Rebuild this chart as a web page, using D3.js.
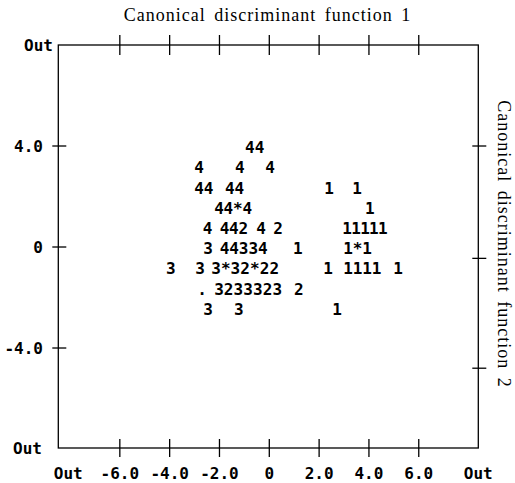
<!DOCTYPE html>
<html>
  <head>
    <title>Canonical discriminant functions</title>
    <style>
      body {
        margin: 0;
        padding: 0;
        overflow: hidden;
        background: #fff;
      }
      svg {
        display: block;
      }
      .glyph, .tick-label {
        font-family: "DejaVu Sans Mono", monospace;
        font-size: 16px;
        font-weight: bold;
        fill: #000;
      }
      .title {
        font-family: "Liberation Serif", serif;
        font-size: 18px;
        letter-spacing: 1px;
        word-spacing: 3px;
        fill: #000;
      }
    </style>
    <script src="https://unpkg.com/d3@7.1.1/dist/d3.min.js"></script>
  </head>
  <body>
    <svg width="515" height="483"></svg>
    <script>
      const svg = d3.select('svg');

      // Datos: cada fila del mapa de caracteres
      const rowY = [3.95, 3.15, 2.35, 1.55, 0.75, -0.05, -0.85, -1.65, -2.45];
      const rowSymbols = [
        '44',
        '444',
        '444411',
        '44*41',
        '44424211111',
        '34433411*1',
        '333*32*22111111',
        '.32333232',
        '331'
      ];
      const rowX = [
        [-0.78, -0.39],
        [-2.82, -1.18, 0.03],
        [-2.82, -2.44, -1.58, -1.20, 2.40, 3.52],
        [-2.02, -1.64, -1.26, -0.88, 4.04],
        [-2.48, -1.80, -1.42, -1.04, -0.33, 0.35, 3.12, 3.48, 3.84, 4.20, 4.56],
        [-2.46, -1.80, -1.41, -1.03, -0.64, -0.26, 1.15, 3.16, 3.54, 3.92],
        [-3.95, -2.78, -2.14, -1.75, -1.36, -0.97, -0.58, -0.19, 0.20, 2.36, 3.16, 3.54, 3.92, 4.31, 5.17],
        [-2.70, -2.02, -1.63, -1.24, -0.85, -0.46, -0.07, 0.32, 1.19],
        [-2.46, -1.22, 2.72]
      ];

      // Ejes
      const xTicks = [-6, -4, -2, 0, 2, 4, 6];
      const xTickLabels = ['-6.0', '-4.0', '-2.0', '0', '2.0', '4.0', '6.0'];
      const yTicks = [4, 0, -4];
      const yTickLabels = ['4.0', '0', '-4.0'];
      const rightTicks = [4, -0.45, -4.8];
      const xDomain = [-8.47, 8.39];
      const yDomain = [-7.96, 8.0];
      const xTitle = 'Canonical discriminant function 1';
      const yTitle = 'Canonical discriminant function 2';

      const mLeft = 58.3, mRight = 478.3, mTop = 45, mBottom = 448;
      const x = d3.scaleLinear().domain(xDomain).range([mLeft, mRight]);
      const y = d3.scaleLinear().domain(yDomain).range([mBottom, mTop]);

      // Marco
      svg.append('rect')
        .attr('x', mLeft)
        .attr('y', mTop)
        .attr('width', mRight - mLeft)
        .attr('height', mBottom - mTop)
        .attr('fill', 'none')
        .attr('stroke', '#000')
        .attr('stroke-width', 1.3);

      const tickG = svg.append('g').attr('stroke', '#000').attr('stroke-width', 1.3);
      // marcas arriba y abajo
      tickG.selectAll('.tt').data(xTicks).enter().append('line')
        .attr('x1', (d) => x(d)).attr('x2', (d) => x(d))
        .attr('y1', mTop - 10).attr('y2', mTop + 10);
      tickG.selectAll('.tb').data(xTicks).enter().append('line')
        .attr('x1', (d) => x(d)).attr('x2', (d) => x(d))
        .attr('y1', mBottom - 9).attr('y2', mBottom + 9);
      // marcas izquierda y derecha
      tickG.selectAll('.tl').data(yTicks).enter().append('line')
        .attr('y1', (d) => y(d)).attr('y2', (d) => y(d))
        .attr('x1', mLeft - 6).attr('x2', mLeft + 8);
      tickG.selectAll('.tr').data(rightTicks).enter().append('line')
        .attr('y1', (d) => y(d)).attr('y2', (d) => y(d))
        .attr('x1', mRight - 6).attr('x2', mRight + 8);

      // Etiquetas del eje x
      const labelY = 478.5;
      svg.selectAll('.xl').data(xTicks).enter().append('text')
        .attr('class', 'tick-label')
        .attr('x', (d) => x(d))
        .attr('y', labelY)
        .attr('text-anchor', 'middle')
        .text((d, i) => xTickLabels[i]);
      svg.append('text').attr('class', 'tick-label')
        .attr('x', x(xDomain[0]) + 10).attr('y', labelY)
        .attr('text-anchor', 'middle').text('Out');
      svg.append('text').attr('class', 'tick-label')
        .attr('x', x(xDomain[1])).attr('y', labelY)
        .attr('text-anchor', 'middle').text('Out');

      // Etiquetas del eje y
      svg.selectAll('.yl').data(yTicks).enter().append('text')
        .attr('class', 'tick-label')
        .attr('x', 43)
        .attr('y', (d) => y(d) + 6)
        .attr('text-anchor', 'end')
        .text((d, i) => yTickLabels[i]);
      svg.append('text').attr('class', 'tick-label')
        .attr('x', 53).attr('y', y(yDomain[1]) + 6)
        .attr('text-anchor', 'end').text('Out');
      svg.append('text').attr('class', 'tick-label')
        .attr('x', 42).attr('y', y(yDomain[0]) + 6)
        .attr('text-anchor', 'end').text('Out');

      // Títulos
      svg.append('text').attr('class', 'title')
        .attr('x', 267.5).attr('y', 21)
        .attr('text-anchor', 'middle').text(xTitle);
      svg.append('text').attr('class', 'title')
        .attr('transform', 'translate(498,244) rotate(90)')
        .attr('text-anchor', 'middle').text(yTitle);

      // Símbolos de grupo
      const points = [];
      rowSymbols.forEach((s, r) => {
        s.split('').forEach((c, i) => {
          points.push({ x: rowX[r][i], y: rowY[r], c: c });
        });
      });
      svg.selectAll('.glyph').data(points).enter().append('text')
        .attr('class', 'glyph')
        .attr('x', (d) => x(d.x))
        .attr('y', (d) => y(d.y) + 6)
        .attr('text-anchor', 'middle')
        .text((d) => d.c);
    </script>
  </body>
</html>
